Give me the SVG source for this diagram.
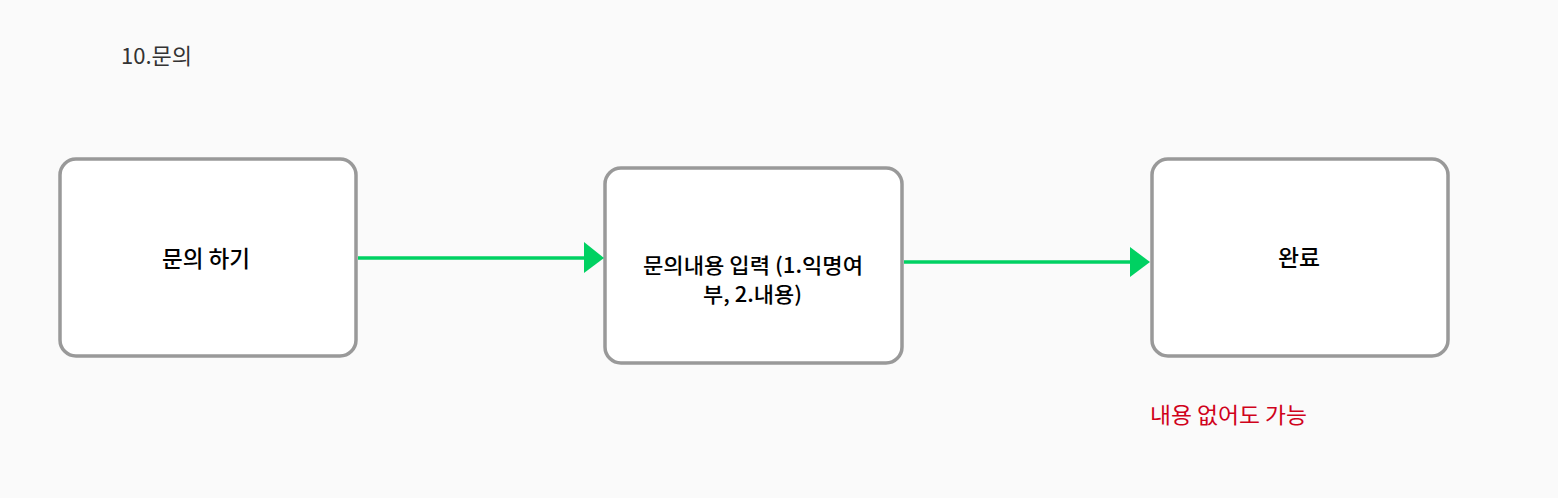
<svg xmlns="http://www.w3.org/2000/svg" width="1558" height="498" viewBox="0 0 1558 498">
<style>
.box{fill:#fff;stroke:#999;stroke-width:3.5}
.lbl{font-family:"Noto Sans CJK KR","Noto Sans",sans-serif;font-size:22.5px;font-weight:500;fill:#000;text-anchor:middle}
.sm{font-size:21px}
.conn{stroke:#00d162;stroke-width:3.5;fill:none}
.head{fill:#00d162}
</style>
<rect width="1558" height="498" fill="#fafafa"/>
<text x="121" y="64" font-family="'Noto Sans CJK KR','Noto Sans',sans-serif" font-size="22" fill="#333" textLength="71" lengthAdjust="spacingAndGlyphs">10.문의</text>
<g id="n1">
<rect class="box" x="60" y="159" width="296" height="197" rx="16"/>
<text class="lbl" x="206" y="267" textLength="88" lengthAdjust="spacingAndGlyphs">문의 하기</text>
</g>
<g id="n2">
<rect class="box" x="605" y="168" width="297" height="195" rx="16"/>
<text class="lbl sm" x="753" y="273" textLength="220" lengthAdjust="spacingAndGlyphs">문의내용 입력 (1.익명여</text>
<text class="lbl sm" x="752.5" y="302" textLength="99" lengthAdjust="spacingAndGlyphs">부, 2.내용)</text>
</g>
<g id="n3">
<rect class="box" x="1152" y="159" width="296" height="197" rx="16"/>
<text class="lbl" x="1299" y="266" textLength="42" lengthAdjust="spacingAndGlyphs">완료</text>
</g>
<g id="connectors">
<line class="conn" x1="358" y1="258" x2="586" y2="258"/>
<polygon class="head" points="584,242 604,258 584,273"/>
<line class="conn" x1="904" y1="262" x2="1132" y2="262"/>
<polygon class="head" points="1130,247 1150,262 1130,277"/>
</g>
<text x="1150" y="423" font-family="'Noto Sans CJK KR','Noto Sans',sans-serif" font-size="22" fill="#d0021b" textLength="157" lengthAdjust="spacingAndGlyphs">내용 없어도 가능</text>
</svg>
